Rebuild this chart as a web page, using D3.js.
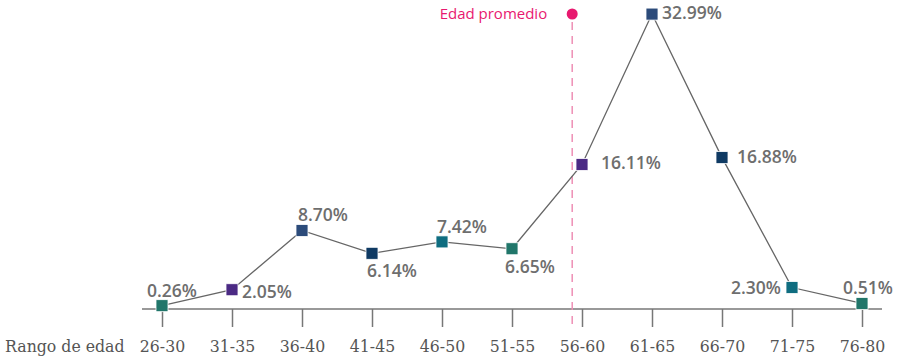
<!DOCTYPE html>
<html>
<head>
<meta charset="utf-8">
<script src="https://cdn.jsdelivr.net/npm/d3@7"></script>
<style>
  body { margin: 0; background: #fff; }
  svg { display: block; }
</style>
</head>
<body>
<svg width="900" height="363"></svg>
<script>
// datos
let rangos = ["26-30","31-35","36-40","41-45","46-50","51-55","56-60","61-65","66-70","71-75","76-80"];
let valores = [0.26, 2.05, 8.70, 6.14, 7.42, 6.65, 16.11, 32.99, 16.88, 2.30, 0.51];
let promedio = 57.3;   // edad promedio
let ejeTitulo = "Rango de edad";
let promTitulo = "Edad promedio";

// estilo de etiquetas: anchor, dx, dy respecto al marcador
let lblAnchor = ["middle","start","middle","middle","middle","middle","start","start","start","end","middle"];
let lblDx = [10, 10, 21, 20, 20, 18, 19, 10, 15, -11, 6];
let lblDy = [-9, 8, -9, 24, -9, 24, 5, 5, 5, 6, -9];
let colores = ["#21766a","#4b2a84","#2c4b7a","#0f3a63","#0f6d80"];

let serif = "'DejaVu Serif Condensed', 'DejaVu Serif', serif";
let sans = "'Open Sans', sans-serif";

let svg = d3.select("svg");

let x = d3.scalePoint().domain(rangos).range([162, 862]);
let y = d3.scaleLinear().domain([0, 33]).range([308, 14]);

// eje x
let axis = svg.append("g")
    .attr("transform", "translate(0,309)")
    .call(d3.axisBottom(x).tickSize(18).tickPadding(12).tickSizeOuter(0));
axis.select(".domain").attr("d", "M142,0H882").attr("stroke", "#777").attr("stroke-width", 1.5);
axis.selectAll(".tick line").attr("stroke", "#777").attr("stroke-width", 1.5);
axis.selectAll(".tick text")
    .attr("fill", "#555")
    .attr("dy", null)
    .attr("y", 43)
    .style("font-family", serif)
    .style("font-stretch", "condensed")
    .style("font-size", "17.5px");

svg.append("text")
    .attr("x", 5).attr("y", 352)
    .attr("fill", "#555")
    .style("font-family", serif)
    .style("font-stretch", "condensed")
    .style("font-size", "17.5px")
    .text(ejeTitulo);

// linea de edad promedio: interpolada entre los centros de 51-55 (53) y 56-60 (58)
let xp = x("51-55") + (promedio - 53) / 5 * (x("56-60") - x("51-55"));
svg.append("line")
    .attr("x1", xp).attr("x2", xp)
    .attr("y1", 22).attr("y2", 330)
    .attr("stroke", "#ee8fb5")
    .attr("stroke-width", 1.5)
    .attr("stroke-dasharray", "8,6");
svg.append("circle")
    .attr("cx", xp).attr("cy", 14).attr("r", 5.5)
    .attr("fill", "#e8196f");
svg.append("text")
    .attr("x", xp - 25).attr("y", 19)
    .attr("text-anchor", "end")
    .attr("fill", "#e8196f")
    .style("font-family", sans)
    .style("font-size", "15px")
    .text(promTitulo);

// linea
let line = d3.line()
    .x((d, i) => x(rangos[i]))
    .y(d => y(d));
svg.append("path")
    .datum(valores)
    .attr("d", line)
    .attr("fill", "none")
    .attr("stroke", "#666")
    .attr("stroke-width", 1.3);

// marcadores
svg.selectAll("rect.mark")
    .data(valores)
    .join("rect")
    .attr("class", "mark")
    .attr("x", (d, i) => x(rangos[i]) - 6)
    .attr("y", d => y(d) - 6)
    .attr("width", 12)
    .attr("height", 12)
    .attr("fill", (d, i) => colores[i % colores.length])
    .attr("stroke", "#fff")
    .attr("stroke-width", 0.8);

// etiquetas
svg.selectAll("text.lbl")
    .data(valores)
    .join("text")
    .attr("class", "lbl")
    .attr("x", (d, i) => x(rangos[i]) + lblDx[i])
    .attr("y", (d, i) => y(d) + lblDy[i])
    .attr("text-anchor", (d, i) => lblAnchor[i])
    .attr("fill", "#6e6e6e")
    .style("font-family", sans)
    .style("font-weight", 600)
    .style("font-size", "17.5px")
    .text(d => d.toFixed(2) + "%");
</script>
</body>
</html>
